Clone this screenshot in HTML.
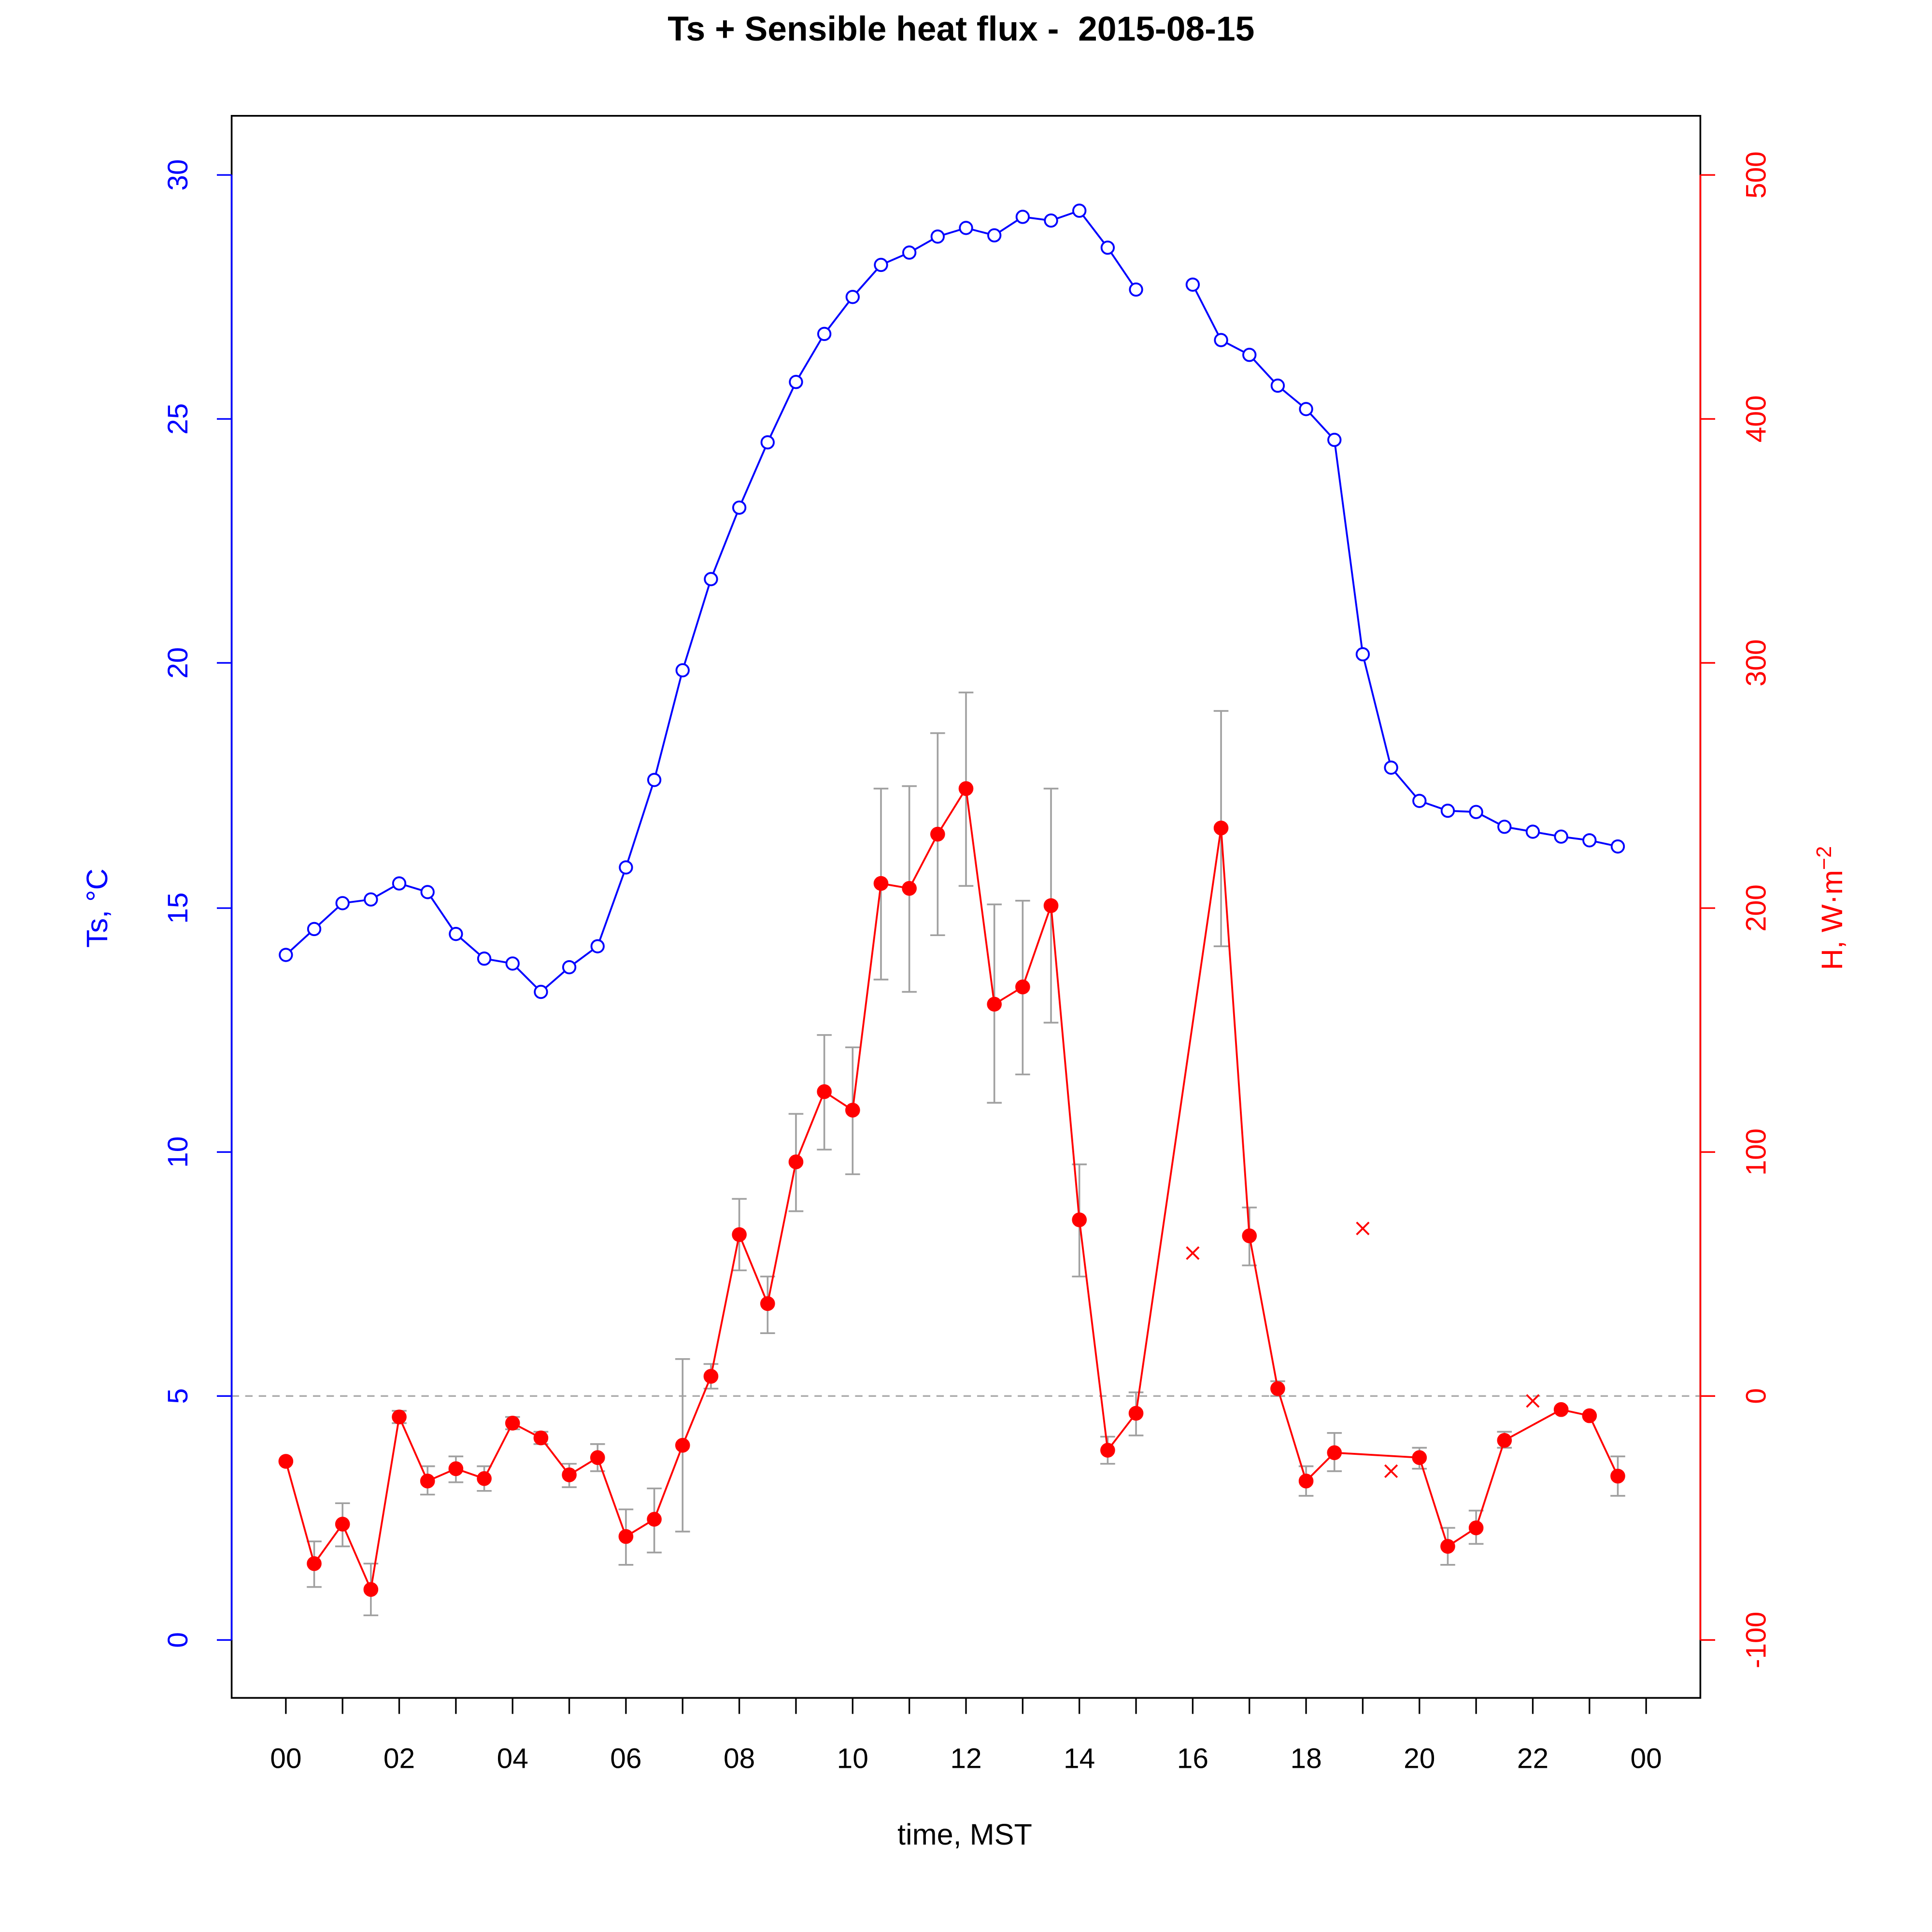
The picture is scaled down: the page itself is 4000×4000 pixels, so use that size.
<!DOCTYPE html>
<html><head><meta charset="utf-8"><style>html,body{margin:0;padding:0;background:#fff}svg{display:block}</style></head>
<body>
<svg id="s" width="4000" height="4000" viewBox="0 0 1568 1568" preserveAspectRatio="none" xmlns="http://www.w3.org/2000/svg" font-family="Liberation Sans, Arial, sans-serif">
<rect width="1568" height="1568" fill="#fff"/>
<text x="780" y="33" text-anchor="middle" font-size="28" font-weight="bold" xml:space="preserve">Ts + Sensible heat flux -  2015-08-15</text>
<rect x="188" y="94" width="1192" height="1284" fill="none" stroke="#000" stroke-width="1.4"/>
<line x1="188" y1="1133" x2="1380" y2="1133" stroke="#aaa" stroke-width="1.3" stroke-dasharray="6,5"/>
<g id="g"></g>
<g fill="#0000ff" font-size="23" text-anchor="middle">
<text transform="translate(152,1331) rotate(-90)">0</text>
<text transform="translate(152,1133) rotate(-90)">5</text>
<text transform="translate(152,935) rotate(-90)">10</text>
<text transform="translate(152,737) rotate(-90)">15</text>
<text transform="translate(152,538) rotate(-90)">20</text>
<text transform="translate(152,340) rotate(-90)">25</text>
<text transform="translate(152,142) rotate(-90)">30</text>
<text transform="translate(87,737) rotate(-90)" font-size="24">Ts, °C</text>
</g>
<g fill="#ff0000" font-size="23" text-anchor="middle">
<text transform="translate(1433,1331) rotate(-90)">-100</text>
<text transform="translate(1433,1133) rotate(-90)">0</text>
<text transform="translate(1433,935) rotate(-90)">100</text>
<text transform="translate(1433,737) rotate(-90)">200</text>
<text transform="translate(1433,538) rotate(-90)">300</text>
<text transform="translate(1433,340) rotate(-90)">400</text>
<text transform="translate(1433,142) rotate(-90)">500</text>
<text transform="translate(1495,737) rotate(-90)" font-size="24">H, W·m<tspan dy="-9" font-size="17">−2</tspan></text>
</g>
<g font-size="23" text-anchor="middle" fill="#000">
<text x="232" y="1435">00</text><text x="324" y="1435">02</text><text x="416" y="1435">04</text>
<text x="508" y="1435">06</text><text x="600" y="1435">08</text><text x="692" y="1435">10</text>
<text x="784" y="1435">12</text><text x="876" y="1435">14</text><text x="968" y="1435">16</text>
<text x="1060" y="1435">18</text><text x="1152" y="1435">20</text><text x="1244" y="1435">22</text>
<text x="1336" y="1435">00</text>
<text x="783" y="1497" font-size="24">time, MST</text>
</g>
</svg>
<script>
var ns="http://www.w3.org/2000/svg",g=document.getElementById("g");
function el(t,a){var e=document.createElementNS(ns,t);for(var k in a)e.setAttribute(k,a[k]);g.appendChild(e);return e;}
function X(h){return 232+h*46;}
var l0=[1331,1133,935,737,538,340,142];
l0.forEach(function(y){el("line",{x1:176,y1:y,x2:188,y2:y,stroke:"#0000ff","stroke-width":1.3});el("line",{x1:1380,y1:y,x2:1392,y2:y,stroke:"#ff0000","stroke-width":1.3});});
el("line",{x1:188,y1:142,x2:188,y2:1331,stroke:"#0000ff","stroke-width":1.4});
el("line",{x1:1380,y1:142,x2:1380,y2:1331,stroke:"#ff0000","stroke-width":1.4});
for(var h=0;h<=24;h++){var x=X(h);el("line",{x1:x,y1:1378,x2:x,y2:1391,stroke:"#000","stroke-width":1.3});}
var eb=[[0.5,1251,1288],[1,1220,1255],[1.5,1269,1311],[2,1145,1155],[2.5,1190,1213],[3,1182,1203],[3.5,1190,1210],[4,1150,1160],[4.5,1162,1172],[5,1188,1207],[5.5,1172,1194],[6,1225,1270],[6.5,1208,1260],[7,1103,1243],[7.5,1107,1127],[8,973,1031],[8.5,1036,1082],[9,904,983],[9.5,840,933],[10,850,953],[10.5,640,795],[11,638,805],[11.5,595,759],[12,562,719],[12.5,734,895],[13,731,872],[13.5,640,830],[14,945,1036],[14.5,1166,1188],[15,1130,1165],[16.5,577,768],[17,980,1027],[17.5,1121,1133],[18,1190,1214],[18.5,1163,1194],[20,1175,1192],[20.5,1240,1270],[21,1226,1253],[21.5,1162,1175],[23.5,1182,1214]];
eb.forEach(function(e){var x=X(e[0]);var a={stroke:"#a0a0a0","stroke-width":1.4};
el("line",Object.assign({x1:x,y1:e[1],x2:x,y2:e[2]},a));el("line",Object.assign({x1:x-6,y1:e[1],x2:x+6,y2:e[1]},a));el("line",Object.assign({x1:x-6,y1:e[2],x2:x+6,y2:e[2]},a));});
var b=[775,754,733,730,717,724,758,778,782,805,785,768,704,633,544,470,412,359,310,271,241,215,205,192,185,191,176,179,171,201,235,null,231,276,288,313,332,357,531,623,650,658,659,671,675,679,682,687];
function poly(arr,col){var seg=[];arr.forEach(function(p){if(p===null){if(seg.length>1)el("polyline",{points:seg.join(" "),fill:"none",stroke:col,"stroke-width":1.5});seg=[];}else seg.push(p[0]+","+p[1]);});if(seg.length>1)el("polyline",{points:seg.join(" "),fill:"none",stroke:col,"stroke-width":1.5});}
poly(b.map(function(y,i){return y===null?null:[X(i/2),y];}),"#0000ff");
b.forEach(function(y,i){if(y!==null)el("circle",{cx:X(i/2),cy:y,r:5,fill:"#fff",stroke:"#0000ff","stroke-width":1.5});});
var r=[[0,1186],[0.5,1269],[1,1237],[1.5,1290],[2,1150],[2.5,1202],[3,1192],[3.5,1200],[4,1155],[4.5,1167],[5,1197],[5.5,1183],[6,1247],[6.5,1233],[7,1173],[7.5,1117],[8,1002],[8.5,1058],[9,943],[9.5,886],[10,901],[10.5,717],[11,721],[11.5,677],[12,640],[12.5,815],[13,801],[13.5,735],[14,990],[14.5,1177],[15,1147],[16.5,672],[17,1003],[17.5,1127],[18,1202],[18.5,1179],[20,1183],[20.5,1255],[21,1240],[21.5,1169],[22.5,1144],[23,1149],[23.5,1198]];
poly(r.map(function(p){return [X(p[0]),p[1]];}),"#ff0000");
r.forEach(function(p){el("circle",{cx:X(p[0]),cy:p[1],r:5.5,fill:"#ff0000",stroke:"#ff0000","stroke-width":1});});
[[16,1017],[19,997],[19.5,1194],[22,1137]].forEach(function(p){var x=X(p[0]),y=p[1],d=5;
el("line",{x1:x-d,y1:y-d,x2:x+d,y2:y+d,stroke:"#ff0000","stroke-width":1.5});el("line",{x1:x-d,y1:y+d,x2:x+d,y2:y-d,stroke:"#ff0000","stroke-width":1.5});});
</script>
</body></html>
